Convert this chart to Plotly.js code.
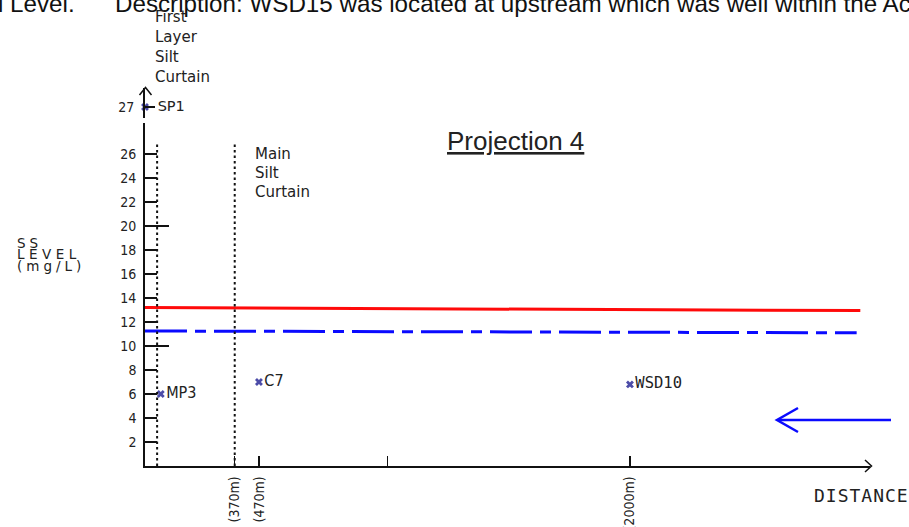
<!DOCTYPE html>
<html><head><meta charset="utf-8">
<script src="https://cdn.plot.ly/plotly-3.0.1.min.js"></script>
<style>html,body{margin:0;padding:0;background:#fff;overflow:hidden}#chart{width:909px;height:527px}</style>
</head><body><div id="chart"></div>
<script>
// ---------------- data ----------------
const curtainDist = [50, 370];           // silt curtain positions (m)
const curtainTop = [27, 27];             // dotted-line top (SS level)
const stations = ['MP3', 'C7', 'WSD10'];
const stationDist = [65, 470, 2000];
const stationSS = [6, 7, 6.8];
const upStations = ['SP1'];
const upStationDist = [0];
const upStationSS = [27];
const limitDist = [0, 2950];
const limitLevel = [13.2, 12.95];        // red solid line
const actionDist = [0, 2935];
const actionLevel = [11.25, 11.1];       // blue dash-dot line
const yTickVals = [2, 4, 6, 8, 10, 12, 14, 16, 18, 20, 22, 24, 26];
const yMajorTicks = [10, 20];
const xTickVals = [370, 470, 1000, 2000];
const xTickText = ['(370m)', '(470m)', '', '(2000m)'];
const upTickVals = [27];
const upTickText = ['27'];

// ---------------- geometry helpers ----------------
const L = 145, R = 39, T = 80, B = 61, W = 909, H = 527;
const PW = W - L - R, PH = H - T - B;
const X = px => (px - L) / PW;
const Y = py => (H - B - py) / PH;

const INK = '#111';
const TXT = '#222';
const narrow = "'Liberation Sans Narrow','DejaVu Sans Condensed','Liberation Sans',Arial,sans-serif";
const sans = "'Liberation Sans',Arial,sans-serif";
const gothic = "'DejaVu Sans',sans-serif";
const mono = "'DejaVu Sans Mono',monospace";

const annotations = [];
const spaced = [];
function ann(text, px, pyCenter, font, xanchor, ls) {
  annotations.push({text: text, xref: 'paper', yref: 'paper', x: X(px), y: Y(pyCenter),
    xanchor: xanchor || 'left', yanchor: 'middle', showarrow: false, font: font, align: 'left',
    borderpad: 0, borderwidth: 0});
  if (ls) spaced.push([annotations.length - 1, ls]);
}
// document text cut at the top
const docFont = {family: sans, size: 24.2, color: INK};
ann('l Level.', -2, 3.5, docFont);
ann('Description: WSD15 was located at upstream which was well within the Action Level.', 115, 3.5, docFont);
// curtain labels
const g15 = {family: gothic, size: 15, color: TXT};
['First', 'Layer', 'Silt', 'Curtain'].forEach((t, i) => ann(t, 155, 11.7 + 19.8 * i + 5.5, g15));
['Main', 'Silt', 'Curtain'].forEach((t, i) => ann(t, 255, 148.3 + 19.2 * i + 5.5, g15));
// title
ann('<u>Projection 4</u>', 515, 141, {family: sans, size: 26, color: TXT}, 'center');
// y title
const yt = {family: gothic, size: 13.5, color: TXT};
ann('SS', 17, 242.6, yt, 'left', 4);
ann('LEVEL', 17, 254.3, yt, 'left', 4.5);
ann('(mg/L)', 17, 266, yt, 'left', 4);
// x title
ann('DISTANCE', 814, 495, {family: mono, size: 18, color: TXT}, 'left', 1);

// letter spacing css
const css = spaced.map(([i, ls]) => `g.annotation[data-index="${i}"] text{letter-spacing:${ls}px}`).join('\n');
const st = document.createElement('style'); st.textContent = css; document.head.appendChild(st);

const shapes = [
  // y axis arrow head
  {type: 'path', xref: 'paper', yref: 'paper', path: `M${X(139.5)},${Y(95)} L${X(145.5)},${Y(87.5)} L${X(151.5)},${Y(95)}`, line: {color: INK, width: 1.5}},
  // x axis arrow head
  {type: 'path', xref: 'paper', yref: 'paper', path: `M${X(865)},${Y(460)} L${X(871.5)},${Y(466)} L${X(865)},${Y(472)}`, line: {color: INK, width: 1.5}},
  // blue flow arrow
  {type: 'line', xref: 'paper', yref: 'paper', x0: X(891), x1: X(778), y0: Y(420), y1: Y(420), line: {color: '#0a0aff', width: 2.5}},
  {type: 'path', xref: 'paper', yref: 'paper', path: `M${X(798)},${Y(408)} L${X(777)},${Y(420)} L${X(798)},${Y(432)}`, line: {color: '#0a0aff', width: 2.5}}
];

const traces = [];
curtainDist.forEach((d, i) => traces.push({
  x: [d, d], y: [0, curtainTop[i]], xaxis: 'x', yaxis: 'y3', mode: 'lines',
  line: {color: INK, width: 2, dash: '2.5px,3px'}, hoverinfo: 'skip'}));
traces.push({x: limitDist, y: limitLevel, mode: 'lines', line: {color: '#ff0a0a', width: 3}, hoverinfo: 'skip'});
traces.push({x: actionDist, y: actionLevel, mode: 'lines', line: {color: '#0a0aff', width: 3, dash: '42px,8px,11px,8px'}, hoverinfo: 'skip'});
traces.push({x: stationDist, y: stationSS, text: stations, mode: 'markers+text', textposition: 'middle right',
  cliponaxis: false,
  marker: {symbol: 'x', size: 7, color: '#4c4ca8'},
  textfont: {family: [narrow, narrow, mono], size: [16, 16, 15.5], color: TXT}});
traces.push({x: upStationDist, y: upStationSS, text: upStations, xaxis: 'x', yaxis: 'y2', mode: 'markers+text',
  textposition: 'middle right', texttemplate: '\u2002%{text}', cliponaxis: false,
  marker: {symbol: 'x', size: 7, color: '#4c4ca8'},
  textfont: {family: gothic, size: 14.5, color: TXT}});

const layout = {
  width: W, height: H, margin: {l: L, r: R, t: T, b: B, pad: 0}, autosize: false,
  paper_bgcolor: '#fff', plot_bgcolor: '#fff', showlegend: false,
  annotations: annotations, shapes: shapes,
  xaxis: {range: [0, 2990], domain: [0, 1], showline: true, linecolor: INK, linewidth: 1.8,
    zeroline: false, showgrid: false, tickmode: 'array', tickvals: xTickVals, ticktext: xTickText,
    ticks: 'inside', ticklen: 10, tickwidth: 1.2, tickcolor: INK, tickangle: -90, ticklabelstandoff: 3,
    tickfont: {family: narrow, size: 14, color: TXT}},
  yaxis: {range: [0, 343 / 12], domain: [0, Y(123)], anchor: 'x', showline: true, linecolor: INK, linewidth: 1.8,
    zeroline: false, showgrid: false, tickmode: 'array', tickvals: yTickVals, ticks: 'inside', ticklen: 12,
    tickwidth: 1.5, tickcolor: INK, ticklabelstandoff: 4, tickfont: {family: narrow, size: 14, color: TXT}},
  yaxis3: {range: [0, 343 / 12], overlaying: 'y', anchor: 'x', showline: false, zeroline: false, showgrid: false,
    tickmode: 'array', tickvals: yMajorTicks, ticks: 'inside', ticklen: 24, tickwidth: 1.5, tickcolor: INK,
    showticklabels: false},
  yaxis2: {range: [26.08, 28.58], domain: [Y(118), Y(88)], anchor: 'x', showline: true, linecolor: INK, linewidth: 1.8,
    zeroline: false, showgrid: false, tickmode: 'array', tickvals: upTickVals, ticktext: upTickText,
    ticks: 'inside', ticklen: 10, tickwidth: 1.2, tickcolor: INK, ticklabelstandoff: 6,
    tickfont: {family: narrow, size: 14, color: TXT}}
};
Plotly.newPlot('chart', traces, layout, {staticPlot: true, displayModeBar: false});
</script></body></html>
